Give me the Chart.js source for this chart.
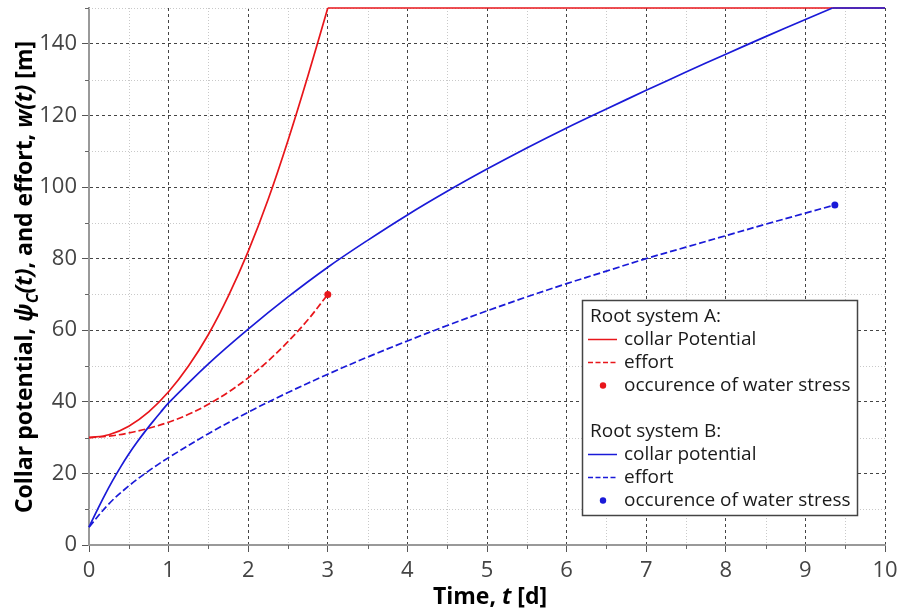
<!DOCTYPE html>
<html>
<head>
<meta charset="utf-8">
<script src="https://cdn.jsdelivr.net/npm/chart.js@4.4.1/dist/chart.umd.min.js"></script>
<style>
  html, body { margin: 0; background: #fff; }
  #wrap { width: 901px; height: 615px; }
</style>
</head>
<body>
<div id="wrap"><canvas id="chart"></canvas></div>
<script>
// root system A
const timeA = [0, 0.25, 0.5, 0.75, 1, 1.25, 1.5, 1.75, 2, 2.25, 2.5, 2.75, 3];
const collarA = [30, 30.8, 33.2, 37.2, 42.8, 50, 58.8, 69.5, 82, 96.5, 113, 131, 150];
const effortA = [30, 30.4, 31.3, 32.6, 34.3, 36.5, 39.3, 42.7, 46.7, 51.4, 56.8, 62.9, 70];
const capTimeA = [3, 10];
const capA = [150, 150];

// root system B
const collarTimeB = [0, 0.1, 0.2, 0.3, 0.4, 0.5, 0.6, 0.7, 0.8, 0.9, 1, 1.5, 2, 2.5, 3, 3.5, 4, 4.5, 5, 5.5, 6, 6.5, 7, 7.5, 8, 8.5, 9, 9.34];
const collarB = [5, 9.6, 14, 18.1, 21.9, 25.4, 28.6, 31.6, 34.4, 37.1, 39.7, 50.6, 60.3, 69.3, 77.6, 85.1, 92.2, 98.8, 105, 110.9, 116.5, 121.8, 127, 132.1, 137.1, 142, 146.8, 150];
const effortTimeB = [0, 0.25, 0.5, 0.75, 1, 1.5, 2, 2.5, 3, 3.5, 4, 4.5, 5, 5.5, 6, 6.5, 7, 7.5, 8, 8.5, 9, 9.37];
const effortB = [5, 11.5, 16.5, 20.7, 24.4, 31.1, 37.1, 42.6, 47.7, 52.5, 57, 61.3, 65.4, 69.3, 73, 76.5, 80, 83.2, 86.4, 89.6, 92.7, 95];
const capTimeB = [9.34, 10];
const capB = [150, 150];

// onset of water stress (A, B)
const stressTime = [3, 9.37];
const stressEffort = [70, 95];

// minor grid positions
const xMinorTicks = [0.5, 1.5, 2.5, 3.5, 4.5, 5.5, 6.5, 7.5, 8.5, 9.5];
const yMinorTicks = [10, 30, 50, 70, 90, 110, 130, 150];

const RED = '#e8161b';
const BLUE = '#1a1ad8';
const FONT = "'Open Sans', sans-serif";

const pts = (ts, vs) => ts.map((t, i) => ({ x: t, y: vs[i] }));

const legendRows = [
  { text: 'Root system A:' },
  { text: 'collar Potential', color: RED, kind: 'line' },
  { text: 'effort', color: RED, kind: 'dash' },
  { text: 'occurence of water stress', color: RED, kind: 'dot' },
  { text: '' },
  { text: 'Root system B:' },
  { text: 'collar potential', color: BLUE, kind: 'line' },
  { text: 'effort', color: BLUE, kind: 'dash' },
  { text: 'occurence of water stress', color: BLUE, kind: 'dot' },
];

const xTitle = [
  { t: 'Time, ', s: 'bold' },
  { t: 't', s: 'italic bold' },
  { t: ' [d]', s: 'bold' },
];
const yTitle = [
  { t: 'Collar potential, ', s: 'bold' },
  { t: 'ψ', s: 'italic bold' },
  { t: 'C', s: 'italic bold', sub: true },
  { t: '(t)', s: 'italic bold' },
  { t: ', and effort, ', s: 'bold' },
  { t: 'w(t)', s: 'italic bold' },
  { t: ' [m]', s: 'bold' },
];

function drawRich(ctx, parts, size) {
  const fontOf = (p) => `${p.s} ${p.sub ? Math.round(size * 0.7) : size}px ${FONT}`;
  let total = 0;
  parts.forEach((p) => { ctx.font = fontOf(p); total += ctx.measureText(p.t).width; });
  let x = -total / 2;
  parts.forEach((p) => {
    ctx.font = fontOf(p);
    ctx.fillText(p.t, x, p.sub ? size * 0.25 : 0);
    x += ctx.measureText(p.t).width;
  });
}

const minorGrid = {
  id: 'minorGrid',
  beforeDatasetsDraw(chart) {
    const { ctx, chartArea: a, scales: { x, y } } = chart;
    ctx.save();
    ctx.lineWidth = 1;
    ctx.strokeStyle = '#c9c9c9';
    ctx.setLineDash([1, 2]);
    xMinorTicks.forEach((v) => {
      const px = Math.round(x.getPixelForValue(v)) + 0.5;
      ctx.beginPath(); ctx.moveTo(px, a.top); ctx.lineTo(px, a.bottom); ctx.stroke();
    });
    yMinorTicks.forEach((v) => {
      const py = Math.round(y.getPixelForValue(v)) + 0.5;
      ctx.beginPath(); ctx.moveTo(a.left, py); ctx.lineTo(a.right, py); ctx.stroke();
    });
    // short ticks outside the axes
    ctx.setLineDash([]);
    ctx.strokeStyle = '#666';
    xMinorTicks.forEach((v) => {
      const px = Math.round(x.getPixelForValue(v)) + 0.5;
      ctx.beginPath(); ctx.moveTo(px, a.bottom); ctx.lineTo(px, a.bottom + 4); ctx.stroke();
    });
    yMinorTicks.forEach((v) => {
      const py = Math.round(y.getPixelForValue(v)) + 0.5;
      ctx.beginPath(); ctx.moveTo(a.left - 4, py); ctx.lineTo(a.left, py); ctx.stroke();
    });
    ctx.restore();
  },
};

const annotations = {
  id: 'annotations',
  afterDraw(chart) {
    const { ctx } = chart;
    ctx.save();
    ctx.fillStyle = '#000';
    ctx.textBaseline = 'alphabetic';
    ctx.textAlign = 'left';

    // axis titles
    ctx.save();
    ctx.translate(490, 604);
    drawRich(ctx, xTitle, 23);
    ctx.restore();

    ctx.save();
    ctx.translate(32, 277);
    ctx.rotate(-Math.PI / 2);
    drawRich(ctx, yTitle, 23);
    ctx.restore();

    // legend box
    const bx = 582.5, by = 300.5, bw = 275, bh = 215;
    ctx.fillStyle = '#fff';
    ctx.fillRect(bx, by, bw, bh);
    ctx.strokeStyle = '#444';
    ctx.lineWidth = 1.5;
    ctx.strokeRect(bx, by, bw, bh);

    ctx.font = `19px ${FONT}`;
    ctx.textBaseline = 'middle';
    legendRows.forEach((row, i) => {
      const cy = 316.5 + i * 23;
      ctx.fillStyle = '#1a1a1a';
      if (!row.kind) {
        ctx.fillText(row.text, 590, cy);
        return;
      }
      ctx.fillText(row.text, 624, cy);
      ctx.strokeStyle = row.color;
      ctx.fillStyle = row.color;
      ctx.lineWidth = 1.5;
      if (row.kind === 'dot') {
        ctx.beginPath(); ctx.arc(603, cy, 3.2, 0, Math.PI * 2); ctx.fill();
      } else {
        ctx.setLineDash(row.kind === 'dash' ? [5, 2.5] : []);
        ctx.beginPath(); ctx.moveTo(588, cy); ctx.lineTo(617, cy); ctx.stroke();
        ctx.setLineDash([]);
      }
    });
    ctx.restore();
  },
};

const lineSet = (label, data, color, opts = {}) => Object.assign({
  label, data, borderColor: color, backgroundColor: color,
  borderWidth: 1.7, pointRadius: 0, tension: 0.35, clip: false,
}, opts);

new Chart(document.getElementById('chart'), {
  type: 'line',
  data: {
    datasets: [
      lineSet('stress', pts(stressTime, stressEffort), RED, {
        showLine: false, pointRadius: 3.5, pointBorderWidth: 0,
        pointBackgroundColor: [RED, BLUE], order: 0,
      }),
      lineSet('capB', pts(capTimeB, capB), BLUE, { order: 1, tension: 0 }),
      lineSet('collarB', pts(collarTimeB, collarB), BLUE, { order: 2 }),
      lineSet('effortB', pts(effortTimeB, effortB), BLUE, { borderDash: [7, 3], order: 3 }),
      lineSet('collarA', pts(timeA, collarA), RED, { order: 4 }),
      lineSet('effortA', pts(timeA, effortA), RED, { borderDash: [7, 3], order: 5 }),
      lineSet('capA', pts(capTimeA, capA), RED, { order: 6, tension: 0 }),
    ],
  },
  options: {
    responsive: true,
    maintainAspectRatio: false,
    animation: false,
    events: [],
    layout: { padding: { top: 8, right: 16, left: 0, bottom: 0 } },
    plugins: { legend: { display: false }, tooltip: { enabled: false } },
    scales: {
      x: {
        type: 'linear', min: 0, max: 10,
        afterFit: (s) => { s.height = 70; s.paddingLeft = 0; s.paddingRight = 0; },
        ticks: { stepSize: 1, color: '#444', padding: 6, font: { family: FONT, size: 22 } },
        grid: { color: '#444', lineWidth: 1, tickLength: 7, tickColor: '#555', tickBorderDash: [] },
        border: { color: '#999', width: 2, dash: [3, 3] },
      },
      y: {
        min: 0, max: 150,
        afterFit: (s) => { s.width = 89; s.paddingTop = 0; s.paddingBottom = 0; },
        ticks: { stepSize: 20, includeBounds: false, color: '#444', padding: 5, font: { family: FONT, size: 22 } },
        grid: { color: '#444', lineWidth: 1, tickLength: 7, tickColor: '#555', tickBorderDash: [] },
        border: { color: '#999', width: 2, dash: [3, 3] },
      },
    },
  },
  plugins: [minorGrid, annotations],
});
</script>
</body>
</html>
